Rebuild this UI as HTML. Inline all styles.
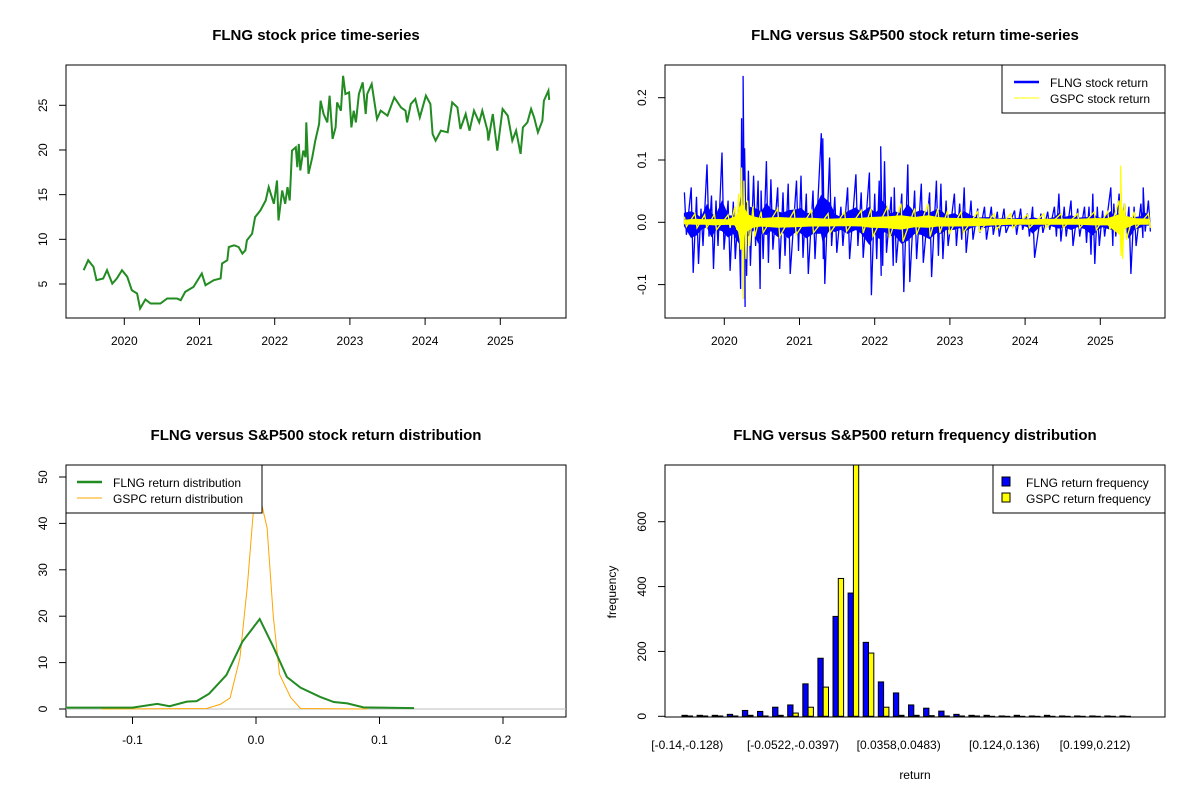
<!DOCTYPE html>
<html><head><meta charset="utf-8">
<style>
html,body{margin:0;padding:0;background:#fff;}
svg{display:block;font-family:"Liberation Sans",Arial,sans-serif;}
.t{font-size:15px;font-weight:bold;text-anchor:middle;}
.tk{font-size:12px;text-anchor:middle;}
</style></head>
<body>
<svg id="c" width="1200" height="800" xmlns="http://www.w3.org/2000/svg">
<rect width="1200" height="800" fill="#fff"/>
<text class="t" x="316" y="40">FLNG stock price time-series</text>
<text class="t" x="915" y="40">FLNG versus S&amp;P500 stock return time-series</text>
<text class="t" x="316" y="440">FLNG versus S&amp;P500 stock return distribution</text>
<text class="t" x="915" y="440">FLNG versus S&amp;P500 return frequency distribution</text>
<g id="g1"></g>
<g id="g2"></g>
<g id="g3"></g>
<g id="g4"></g>
</svg>
<script>
// ---- price series ----
const priceDates=[2019.46,2019.52,2019.59,2019.63,2019.72,2019.77,2019.84,2019.90,2019.97,2020.04,2020.10,2020.17,2020.21,2020.28,2020.35,2020.48,2020.57,2020.70,2020.75,2020.81,2020.92,2021.03,2021.08,2021.19,2021.28,2021.30,2021.37,2021.39,2021.46,2021.52,2021.57,2021.61,2021.63,2021.70,2021.74,2021.81,2021.88,2021.92,2021.99,2022.03,2022.05,2022.10,2022.14,2022.17,2022.20,2022.23,2022.28,2022.30,2022.32,2022.34,2022.38,2022.41,2022.42,2022.45,2022.50,2022.54,2022.59,2022.61,2022.65,2022.70,2022.73,2022.77,2022.81,2022.83,2022.88,2022.91,2022.94,2022.99,2023.02,2023.05,2023.08,2023.12,2023.17,2023.21,2023.23,2023.29,2023.36,2023.41,2023.50,2023.59,2023.68,2023.74,2023.76,2023.81,2023.87,2023.93,2024.01,2024.07,2024.10,2024.14,2024.21,2024.30,2024.36,2024.43,2024.47,2024.54,2024.59,2024.65,2024.72,2024.76,2024.83,2024.84,2024.90,2024.96,2025.03,2025.10,2025.16,2025.21,2025.27,2025.30,2025.36,2025.41,2025.45,2025.50,2025.56,2025.58,2025.64,2025.65];
const priceValues=[6.54,7.66,6.91,5.42,5.61,6.54,5.05,5.61,6.54,5.79,4.31,3.94,2.26,3.27,2.82,2.82,3.38,3.38,3.19,4.12,4.68,6.17,4.87,5.42,5.61,7.29,7.66,9.14,9.33,9.14,8.40,8.77,9.89,10.63,12.49,13.24,14.35,15.84,13.98,16.58,12.12,15.47,13.98,15.84,14.35,19.93,20.30,18.07,20.68,17.70,19.93,19.19,23.09,17.33,19.19,21.05,22.91,25.51,24.03,23.09,26.07,21.24,22.53,25.33,24.40,28.30,26.26,26.44,22.53,24.40,23.09,26.26,27.56,24.03,26.26,27.38,23.47,24.40,23.84,25.88,24.77,24.40,23.09,25.15,25.70,23.65,26.07,25.15,21.79,21.05,22.17,21.98,25.33,24.77,22.35,24.03,22.17,24.40,23.09,24.40,22.17,21.05,24.03,19.93,24.59,23.84,21.05,22.17,19.56,22.53,23.09,24.59,23.65,21.98,23.28,25.51,26.63,25.60];
const yearTicks=[2020,2021,2022,2023,2024,2025];
const priceTicks=[5,10,15,20,25];
// ---- returns ----
const flngDates=[2019.47,2019.56,2019.63,2019.69,2019.77,2019.83,2019.89,2019.97,2020.05,2020.12,2020.19,2020.23,2020.25,2020.27,2020.32,2020.39,2020.45,2020.49,2020.56,2020.62,2020.71,2020.78,2020.85,2020.96,2021.02,2021.09,2021.18,2021.29,2021.31,2021.40,2021.47,2021.55,2021.64,2021.75,2021.82,2021.93,2022.00,2022.06,2022.08,2022.13,2022.22,2022.26,2022.36,2022.44,2022.53,2022.62,2022.73,2022.82,2022.88,2022.95,2023.06,2023.13,2023.19,2023.28,2023.37,2023.46,2023.55,2023.63,2023.72,2023.86,2023.94,2024.03,2024.10,2024.21,2024.30,2024.39,2024.45,2024.52,2024.61,2024.70,2024.79,2024.85,2024.90,2024.96,2025.03,2025.14,2025.18,2025.25,2025.32,2025.38,2025.45,2025.54,2025.57,2025.64];
const flngHigh=[0.048,0.056,0.041,0.022,0.093,0.043,0.035,0.112,0.035,0.033,0.030,0.167,0.235,0.119,0.083,0.075,0.067,0.051,0.098,0.069,0.056,0.048,0.062,0.067,0.075,0.046,0.051,0.143,0.135,0.104,0.041,0.025,0.056,0.077,0.048,0.080,0.046,0.067,0.122,0.098,0.041,0.056,0.046,0.093,0.051,0.062,0.048,0.067,0.062,0.035,0.046,0.030,0.056,0.035,0.022,0.025,0.025,0.017,0.022,0.019,0.022,0.014,0.025,0.014,0.017,0.025,0.046,0.025,0.035,0.022,0.025,0.025,0.046,0.025,0.019,0.056,0.030,0.046,0.030,0.025,0.025,0.030,0.056,0.035];
const flngLow=[-0.020,-0.081,-0.067,-0.038,-0.023,-0.075,-0.038,-0.044,-0.078,-0.059,-0.107,-0.123,-0.136,-0.086,-0.070,-0.038,-0.107,-0.059,-0.065,-0.044,-0.075,-0.054,-0.083,-0.046,-0.057,-0.083,-0.059,-0.059,-0.099,-0.038,-0.049,-0.038,-0.059,-0.038,-0.057,-0.117,-0.059,-0.086,-0.070,-0.049,-0.070,-0.065,-0.112,-0.096,-0.059,-0.065,-0.088,-0.054,-0.059,-0.038,-0.038,-0.028,-0.049,-0.028,-0.017,-0.028,-0.020,-0.023,-0.017,-0.020,-0.012,-0.023,-0.057,-0.017,-0.012,-0.023,-0.031,-0.023,-0.038,-0.023,-0.033,-0.052,-0.067,-0.038,-0.023,-0.038,-0.023,-0.028,-0.017,-0.083,-0.038,-0.025,-0.015,-0.015];
const gspcDates=[2019.47,2019.61,2019.74,2019.87,2020.05,2020.14,2020.19,2020.23,2020.26,2020.31,2020.38,2020.49,2020.71,2020.93,2021.16,2021.38,2021.60,2021.82,2021.95,2022.17,2022.35,2022.53,2022.71,2022.84,2022.97,2023.15,2023.37,2023.59,2023.81,2024.03,2024.25,2024.48,2024.70,2024.92,2025.10,2025.25,2025.27,2025.32,2025.45,2025.64];
const gspcHigh=[0.009,0.014,0.012,0.013,0.012,0.025,0.046,0.088,0.067,0.035,0.025,0.017,0.022,0.019,0.019,0.014,0.017,0.019,0.022,0.025,0.030,0.022,0.030,0.022,0.019,0.017,0.017,0.014,0.014,0.012,0.014,0.014,0.014,0.017,0.017,0.035,0.091,0.030,0.017,0.014];
const gspcLow=[-0.007,-0.009,-0.009,-0.012,-0.009,-0.012,-0.044,-0.123,-0.059,-0.038,-0.023,-0.017,-0.023,-0.020,-0.017,-0.017,-0.015,-0.017,-0.023,-0.025,-0.031,-0.020,-0.023,-0.017,-0.017,-0.017,-0.015,-0.012,-0.009,-0.009,-0.009,-0.009,-0.009,-0.012,-0.012,-0.054,-0.059,-0.028,-0.009,-0.009];
const returnTicks=[-0.1,0.0,0.1,0.2];
const returnTickLabels=["-0.1","0.0","0.1","0.2"];
// ---- densities ----
const flngDensX=[-0.154,-0.12,-0.1,-0.08,-0.07,-0.056,-0.048,-0.038,-0.024,-0.011,0.003,0.014,0.025,0.036,0.052,0.063,0.074,0.087,0.10,0.128];
const flngDensY=[0.3,0.3,0.3,1.1,0.6,1.6,1.7,3.3,7.3,14.5,19.4,13.4,6.9,4.6,2.6,1.5,1.2,0.35,0.3,0.2];
const gspcDensX=[-0.125,-0.04,-0.029,-0.021,-0.013,-0.007,-0.002,0.003,0.009,0.014,0.019,0.028,0.036,0.09];
const gspcDensY=[0,0.1,1,2.4,11,26.6,43,46,39,20,7.5,2.5,0.1,0];
const densTicksX=[-0.1,0.0,0.1,0.2];
const densTicksY=[0,10,20,30,40,50];
// ---- histogram ----
const binLabels=["[-0.14,-0.128)","[-0.0522,-0.0397)","[0.0358,0.0483)","[0.124,0.136)","[0.199,0.212)"];
const binLabelIdx=[0,7,14,21,27];
const flngFreq=[3,3,3,6,18,15,28,35,100,179,308,380,228,106,72,35,25,16,6,3,3,1,3,1,3,1,1,1,1,1];
const gspcFreq=[1,1,1,1,3,1,3,10,28,90,425,900,195,28,3,3,2,1,1,1,0,0,0,0,0,0,0,0,0,0];
const freqTicks=[0,200,400,600];

const NS="http://www.w3.org/2000/svg";
function mk(parent,tag,attrs,name,txt){
  const e=document.createElementNS(NS,tag);
  for(const k in attrs)e.setAttribute(k,attrs[k]);
  
  
  if(txt!==undefined)e.textContent=txt;
  parent.appendChild(e);return e;
}
function lin(d0,d1,p0,p1){return v=>p0+(v-d0)*(p1-p0)/(d1-d0);}
function box(g,x0,y0,x1,y1){mk(g,'rect',{x:x0,y:y0,width:x1-x0,height:y1-y0,fill:'none',stroke:'#000','stroke-width':1},'plot-frame');}
function xTicks(g,vals,labels,sx,yb){vals.forEach((v,i)=>{const x=sx(v);
  mk(g,'line',{x1:x,x2:x,y1:yb,y2:yb+7,stroke:'#000'},'x-tick');
  mk(g,'text',{x:x,y:yb+27,class:'tk'},'x-tick-label',labels[i]);});}
function yTicks(g,vals,labels,sy,xl){vals.forEach((v,i)=>{const y=sy(v);
  mk(g,'line',{x1:xl-7,x2:xl,y1:y,y2:y,stroke:'#000'},'y-tick');
  mk(g,'text',{x:xl-19,y:y,class:'tk',transform:`rotate(-90 ${xl-19} ${y})`},'y-tick-label',labels[i]);});}

// Panel 1
(function(){const g=document.getElementById('g1');
 const sx=lin(2020,2025,124.3,500.3), sy=lin(5,25,284,105.3);
 box(g,66,65,566,318);
 xTicks(g,yearTicks,yearTicks.map(String),sx,318);
 yTicks(g,priceTicks,priceTicks.map(String),sy,66);
 mk(g,'polyline',{points:priceDates.map((d,i)=>sx(d).toFixed(1)+','+sy(priceValues[i]).toFixed(1)).join(' '),fill:'none',stroke:'#228B22','stroke-width':2},'flng-price-line');
})();

// Panel 2
(function(){const g=document.getElementById('g2');
 const sx=lin(2020,2025,724.3,1100.3), sy=lin(0,0.1,222.3,160);
 box(g,665,65,1165,318);
 xTicks(g,yearTicks,yearTicks.map(String),sx,318);
 yTicks(g,returnTicks,returnTickLabels,sy,665);
 function band(dates,hi,lo,col,name,f){
   const up=dates.map((d,i)=>sx(d).toFixed(1)+','+sy(hi[i]*f).toFixed(1));
   const dn=dates.map((d,i)=>sx(d).toFixed(1)+','+sy(lo[i]*f).toFixed(1)).reverse();
   mk(g,'polygon',{points:up.concat(dn).join(' '),fill:col,stroke:col,'stroke-width':1},name+'-band');
   const pts=[];dates.forEach((d,i)=>{pts.push(sx(d).toFixed(1)+','+sy(hi[i]).toFixed(1));pts.push((sx(d)+2).toFixed(1)+','+sy(lo[i]).toFixed(1));});
   mk(g,'polyline',{points:pts.join(' '),fill:'none',stroke:col,'stroke-width':1.3},name+'-line');
 }
 band(flngDates,flngHigh,flngLow,'#0000ff','flng-return',0.3);
 band(gspcDates,gspcHigh,gspcLow,'#ffff00','gspc-return',0.35);
 const lg=mk(g,'g',{},'return-legend');
 mk(lg,'rect',{x:1002,y:65,width:163,height:48,fill:'#fff',stroke:'#000'},'legend-box');
 mk(lg,'line',{x1:1014,x2:1039,y1:82,y2:82,stroke:'#0000ff','stroke-width':2.5},'legend-swatch-flng');
 mk(lg,'line',{x1:1014,x2:1039,y1:98,y2:98,stroke:'#ffff00','stroke-width':1},'legend-swatch-gspc');
 mk(lg,'text',{x:1050,y:87,'font-size':12},'legend-entry-flng','FLNG stock return');
 mk(lg,'text',{x:1050,y:103,'font-size':12},'legend-entry-gspc','GSPC stock return');
})();

// Panel 3
(function(){const g=document.getElementById('g3');
 const sx=lin(0,0.1,256,379.5), sy=lin(0,10,709,662.6);
 box(g,66,465,566,717);
 xTicks(g,densTicksX,["-0.1","0.0","0.1","0.2"],sx,717);
 yTicks(g,densTicksY,densTicksY.map(String),sy,66);
 mk(g,'line',{x1:66,x2:566,y1:sy(0),y2:sy(0),stroke:'#bebebe'},'zero-line');
 mk(g,'polyline',{points:gspcDensX.map((x,i)=>sx(x).toFixed(1)+','+sy(gspcDensY[i]).toFixed(1)).join(' '),fill:'none',stroke:'#ffa500','stroke-width':1},'gspc-density-line');
 mk(g,'polyline',{points:flngDensX.map((x,i)=>sx(x).toFixed(1)+','+sy(flngDensY[i]).toFixed(1)).join(' '),fill:'none',stroke:'#228B22','stroke-width':2},'flng-density-line');
 const lg=mk(g,'g',{},'density-legend');
 mk(lg,'rect',{x:66,y:465,width:196,height:48,fill:'#fff',stroke:'#000'},'legend-box');
 mk(lg,'line',{x1:77,x2:102,y1:482,y2:482,stroke:'#228B22','stroke-width':2.5},'legend-swatch-flng');
 mk(lg,'line',{x1:77,x2:102,y1:498,y2:498,stroke:'#ffa500','stroke-width':1},'legend-swatch-gspc');
 mk(lg,'text',{x:113,y:487,'font-size':12},'legend-entry-flng','FLNG return distribution');
 mk(lg,'text',{x:113,y:503,'font-size':12},'legend-entry-gspc','GSPC return distribution');
})();

// Panel 4
(function(){const g=document.getElementById('g4');
 const sy=lin(0,600,716.3,521.7), grp=15.1, x0=682;
 const clip=mk(g,'clipPath',{id:'hc'},'hist-clip');
 mk(clip,'rect',{x:665,y:465,width:500,height:252},'hist-clip-rect');
 const bars=mk(g,'g',{'clip-path':'url(#hc)'},'bars');
 flngFreq.forEach((v,i)=>{const x=x0+i*grp;
   mk(bars,'rect',{x:x,y:sy(v),width:5.3,height:Math.max(sy(0)-sy(v),0.01),fill:'#0000ff',stroke:'#000','stroke-width':1},'bar-flng');});
 gspcFreq.forEach((v,i)=>{const x=x0+i*grp+5.3;
   mk(bars,'rect',{x:x,y:sy(v),width:5.3,height:Math.max(sy(0)-sy(v),0.01),fill:'#ffff00',stroke:'#000','stroke-width':1},'bar-gspc');});
 box(g,665,465,1165,717);
 yTicks(g,freqTicks,freqTicks.map(String),sy,665);
 binLabelIdx.forEach((k,i)=>{mk(g,'text',{x:x0+k*grp+5.3,y:749,class:'tk'},'bin-label',binLabels[i]);});
 mk(g,'text',{x:915,y:779,class:'tk'},'x-axis-title','return');
 mk(g,'text',{x:616,y:592,class:'tk',transform:'rotate(-90 616 592)'},'y-axis-title','frequency');
 const lg=mk(g,'g',{},'hist-legend');
 mk(lg,'rect',{x:993,y:465,width:172,height:48,fill:'#fff',stroke:'#000'},'legend-box');
 mk(lg,'rect',{x:1002,y:477,width:8,height:9,fill:'#0000ff',stroke:'#000'},'legend-swatch-flng');
 mk(lg,'rect',{x:1002,y:493,width:8,height:9,fill:'#ffff00',stroke:'#000'},'legend-swatch-gspc');
 mk(lg,'text',{x:1026,y:487,'font-size':12},'legend-entry-flng','FLNG return frequency');
 mk(lg,'text',{x:1026,y:503,'font-size':12},'legend-entry-gspc','GSPC return frequency');
})();
</script>
</body></html>
